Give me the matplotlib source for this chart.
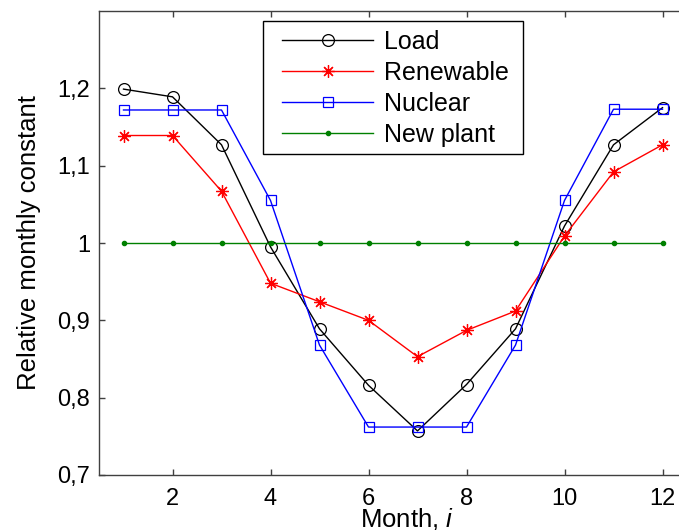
import matplotlib
matplotlib.use("Agg")
import matplotlib.pyplot as plt
from matplotlib.patches import Rectangle

plt.rcParams['font.family'] = ['Liberation Sans', 'DejaVu Sans']
plt.rcParams['mathtext.fontset'] = 'custom'
plt.rcParams['mathtext.it'] = 'Liberation Sans:italic'
plt.rcParams['mathtext.rm'] = 'Liberation Sans'

months = [1, 2, 3, 4, 5, 6, 7, 8, 9, 10, 11, 12]
load = [1.199, 1.189, 1.127, 0.995, 0.889, 0.816, 0.757, 0.817, 0.889, 1.022, 1.127, 1.175]
renewable = [1.139, 1.139, 1.067, 0.948, 0.924, 0.900, 0.853, 0.887, 0.912, 1.009, 1.092, 1.127]
nuclear = [1.172, 1.172, 1.172, 1.055, 0.868, 0.762, 0.762, 0.762, 0.868, 1.055, 1.173, 1.173]
new_plant = [1.0] * 12

xticks = [2, 4, 6, 8, 10, 12]
yticks = [0.7, 0.8, 0.9, 1.0, 1.1, 1.2]
ytick_labels = ['0,7', '0,8', '0,9', '1', '1,1', '1,2']

fig = plt.figure(figsize=(6.79, 5.30), dpi=100)
W, H = 679, 530
ax = fig.add_axes([99 / W, 1 - 475 / H, 588 / W, 464 / H])

lw = 1.0
ax.plot(months, load, color='black', lw=lw, marker='o', ms=8.5, mfc='none',
        mec='black', mew=0.9, label='Load')
ax.plot(months, renewable, color='red', lw=lw, marker=(8, 2, 0), ms=9,
        mec='red', mew=0.9, label='Renewable')
ax.plot(months, nuclear, color='blue', lw=lw, marker='s', ms=7, mfc='none',
        mec='blue', mew=0.9, label='Nuclear')
ax.plot(months, new_plant, color='green', lw=lw, marker='.', ms=6,
        mfc='green', mec='green', label='New plant')

ax.set_xlim(0.5, 12.5)
ax.set_ylim(0.7, 1.3)
ax.set_xticks(xticks)
ax.set_xticklabels([str(t) for t in xticks])
ax.set_yticks(yticks)
ax.set_yticklabels(ytick_labels)

spine_col = '#404040'
for s in ax.spines.values():
    s.set_color(spine_col)
    s.set_linewidth(1.0)
ax.tick_params(direction='in', length=4, width=1.0, color=spine_col,
               top=True, right=True, labelsize=17, labelcolor='black')
ax.tick_params(axis='x', pad=9.5)
ax.tick_params(axis='y', pad=6.5)

ax.set_ylabel('Relative monthly constant', fontsize=18.5)
ax.yaxis.set_label_coords(-0.098, 0.5)
ax.set_xlabel('Month, $i$', fontsize=18.5, va='top')
ax.xaxis.set_label_coords(0.524, -0.066)

# legend frame drawn separately for exact placement
frame = Rectangle((263 / W, 1 - 154 / H), 260 / W, 133 / H,
                  transform=fig.transFigure, fill=True, facecolor='white',
                  edgecolor='black', lw=1.0, zorder=4, clip_on=False)
ax.add_patch(frame)
leg = ax.legend(loc='upper left', bbox_to_anchor=(282 / W, 1 - 30 / H),
                bbox_transform=fig.transFigure, borderaxespad=0,
                fontsize=18, frameon=False,
                handlelength=3.64, handletextpad=0.44,
                labelspacing=0.28, borderpad=0)
leg.set_zorder(6)

fig.savefig('out.png', dpi=100)
